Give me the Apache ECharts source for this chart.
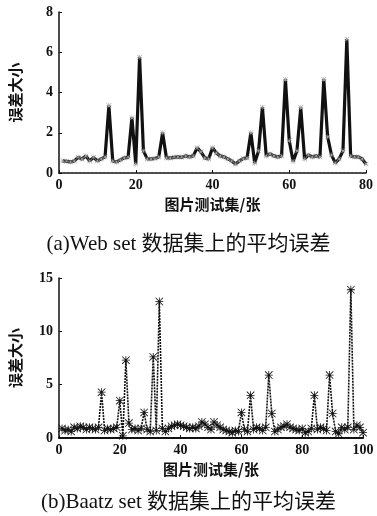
<!DOCTYPE html>
<html><head><meta charset="utf-8">
<script src="https://cdn.jsdelivr.net/npm/echarts@6/dist/echarts.min.js"></script>
<style>html,body{margin:0;padding:0;background:#fff}#c{width:377px;height:516px}</style>
</head><body><div id="c"></div>
<script>
// Web set (80 test images)
const webX = [1,2,3,4,5,6,7,8,9,10,11,12,13,14,15,16,17,18,19,20,21,22,23,24,25,26,27,28,29,30,31,32,33,34,35,36,37,38,39,40,41,42,43,44,45,46,47,48,49,50,51,52,53,54,55,56,57,58,59,60,61,62,63,64,65,66,67,68,69,70,71,72,73,74,75,76,77,78,79,80];
const webErr = [0.6,0.58,0.55,0.6,0.78,0.7,0.85,0.6,0.78,0.6,0.7,0.8,3.35,0.6,0.55,0.65,0.75,0.78,2.75,0.45,5.75,1.1,0.7,0.7,0.72,0.8,2.0,0.75,0.75,0.78,0.8,0.78,0.85,0.8,0.85,1.25,1.05,0.75,0.7,1.25,1.0,0.85,0.8,0.7,0.6,0.45,0.6,0.72,0.75,2.0,0.5,1.1,3.27,0.85,0.95,0.85,0.8,0.85,4.65,1.6,0.58,1.1,3.25,0.7,0.9,0.8,0.85,0.8,4.65,1.8,0.9,0.5,0.7,1.1,6.65,0.85,0.8,0.8,0.7,0.45];
// Baatz set (100 test images)
const baatzX = [1,2,3,4,5,6,7,8,9,10,11,12,13,14,15,16,17,18,19,20,21,22,23,24,25,26,27,28,29,30,31,32,33,34,35,36,37,38,39,40,41,42,43,44,45,46,47,48,49,50,51,52,53,54,55,56,57,58,59,60,61,62,63,64,65,66,67,68,69,70,71,72,73,74,75,76,77,78,79,80,81,82,83,84,85,86,87,88,89,90,91,92,93,94,95,96,97,98,99,100];
const baatzErr = [0.9,0.7,0.8,0.6,1.0,0.9,1.1,1.0,0.8,1.0,0.9,0.8,1.0,4.3,0.7,0.9,0.8,0.9,1.0,3.5,0.2,7.3,1.4,0.8,0.9,0.7,0.9,2.4,0.8,0.6,7.6,0.7,12.8,0.9,0.6,0.9,1.1,1.2,1.3,1.2,1.1,1.0,0.9,1.0,0.9,1.1,1.5,1.3,1.0,0.8,1.5,1.2,1.0,0.8,0.7,0.6,0.5,0.7,0.6,2.4,0.8,0.6,4.0,0.8,1.0,0.9,0.7,1.0,5.9,2.3,0.6,0.8,1.0,1.1,1.3,1.0,0.9,0.8,0.7,0.9,0.5,0.6,0.9,4.0,0.8,1.0,0.9,0.7,5.9,2.3,0.6,0.4,1.0,0.8,1.0,13.9,0.8,1.2,1.0,0.5];
const webTicks = [0,20,40,60,80];
const baatzTicks = [0,20,40,60,80,100];
const xName = '图片测试集/张';
const yName = '误差大小';
const captionA = '(a)Web set 数据集上的平均误差';
const captionB = '(b)Baatz set 数据集上的平均误差';

const star = 'path://M0 9L20 9L20 11L0 11Z M9 0L11 0L11 20L9 20Z M0 1.4L1.4 0L20 18.6L18.6 20Z M18.6 0L20 1.4L1.4 20L0 18.6Z';
const numFont = {fontFamily:'Liberation Serif', fontWeight:'bold', fontSize:14, color:'#111'};
const cjk = 'Noto Sans CJK SC';

function xAx(idx, max, dashed){
  return {gridIndex:idx, type:'value', min:0, max:max, interval:20,
    axisLine:{show:true, lineStyle:{color:'#111', width:dashed ? 1.5 : 2, type: dashed ? [3,1] : 'solid'}},
    axisTick:{show:true, inside:true, length:3, lineStyle:{color:'#111'}},
    axisLabel:Object.assign({margin:5}, numFont),
    splitLine:{show:false},
    name:xName, nameLocation:'middle', nameGap:24,
    nameTextStyle:{fontFamily:cjk, fontSize:15, color:'#111', fontWeight:'bold'}};
}
function yAx(idx, max, interval){
  return {gridIndex:idx, type:'value', min:0, max:max, interval:interval,
    axisLine:{show:true, lineStyle:{color:'#111', width:1.5}},
    axisTick:{show:true, inside:true, length:3, lineStyle:{color:'#111'}},
    axisLabel:Object.assign({margin:6}, numFont),
    splitLine:{show:false},
    name:yName, nameLocation:'middle', nameGap:36, nameRotate:90,
    nameTextStyle:{fontFamily:cjk, fontSize:15, color:'#111', fontWeight:'bold'}};
}
const chart = echarts.init(document.getElementById('c'), null, {renderer:'canvas'});
chart.setOption({
  animation:false,
  backgroundColor:'#fff',
  title:[
    {text:captionA, left:'center', top:229, textStyle:{fontFamily:'Liberation Serif, '+cjk, fontSize:21, fontWeight:'normal', color:'#111'}},
    {text:captionB, left:'center', top:487, textStyle:{fontFamily:'Liberation Serif, '+cjk, fontSize:21, fontWeight:'normal', color:'#111'}}
  ],
  grid:[
    {left:56, right:11, top:12, bottom:343},
    {left:57, right:14, top:278, bottom:78}
  ],
  xAxis:[xAx(0,80,true), xAx(1,100,false)],
  yAxis:[yAx(0,8,2), yAx(1,15,5)],
  series:[
    {type:'line', xAxisIndex:0, yAxisIndex:0, data:webX.map((x,i)=>[x,webErr[i]]),
     lineStyle:{color:'#111', width:3.2}, symbol:star, symbolSize:5, showSymbol:true,
     itemStyle:{color:'#999'}},
    {type:'line', xAxisIndex:1, yAxisIndex:1, data:baatzX.map((x,i)=>[x,baatzErr[i]]),
     lineStyle:{color:'#111', width:1.6, type:[2,1]}, symbol:star, symbolSize:8, showSymbol:true,
     itemStyle:{color:'#111'}}
  ]
});
</script></body></html>
